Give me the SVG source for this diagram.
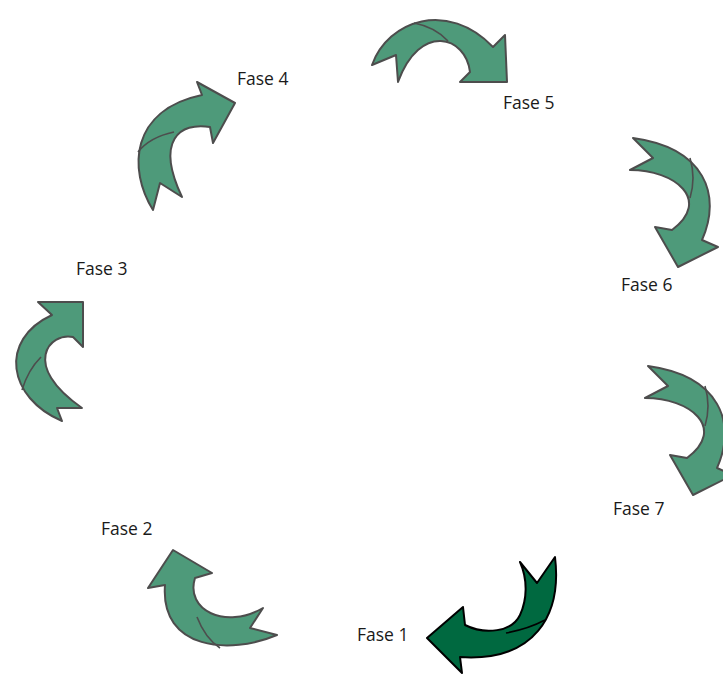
<svg xmlns="http://www.w3.org/2000/svg" width="723" height="674" viewBox="0 0 723 674">
<style>
.a{fill:#4e9a7a;stroke:#4d4d4d;stroke-width:2;stroke-linejoin:round}
.f{fill:none;stroke:#4d4d4d;stroke-width:1.6}
.a1{fill:#006940;stroke:#000;stroke-width:2;stroke-linejoin:round}
.f1{fill:none;stroke:#000;stroke-width:1.6}
.t{font-family:"Open Sans","Noto Sans",sans-serif;font-size:17.5px;fill:#1a1a1a}
</style>
<rect width="723" height="674" fill="#fff"/>
<g id="connectors">
<g id="arrow5"><path class="a" d="M372,65 C388,20 448,0 493,47 L505,35 L507,82 L460,82 L470,72 C466,36 420,22 398,82 L396,55 Z"/><path class="f" d="M414,23 Q435,27 448,41"/></g>
<g id="arrow4"><path class="a" d="M153,210 C128,170 130,110 202,95 L197,82 L235,103 L213,143 L210,127 C180,122 155,140 182,197 L160,183 Z"/><path class="f" d="M138,152 Q150,137 174,132"/></g>
<g id="arrow3"><path class="a" d="M38,302 L83,302 L83,347 L73,337 C50,332 20,365 82,408 L57,408 L62,421 C8,398 -2,340 52,315 Z"/><path class="f" d="M22,390 Q28,370 41,357"/></g>
<g id="arrow2"><path class="a" d="M173,550 L212,573 L195,578 C185,610 225,630 263,608 L250,628 L277,635 C230,655 160,650 165,585 L148,588 Z"/><path class="f" d="M197,617 Q205,638 220,648"/></g>
<g id="arrow1"><path class="a1" d="M427,638 L463,607 L465,625 C485,635 512,632 520,615 C527,600 528,580 520,562 L537,583 L555,557 C562,615 535,662 460,657 L462,673 Z"/><path class="f1" d="M506,633 Q528,629 545,620"/></g>
<g id="arrow6"><path class="a" d="M633,138 L653,158 L630,170 C675,170 712,200 672,230 L655,227 L678,267 L718,247 L702,240 C722,195 705,148 633,138 Z"/><path class="f" d="M690,158 Q696,178 690,198"/></g>
<g id="arrow7" transform="translate(15,228)"><path class="a" d="M633,138 L653,158 L630,170 C675,170 712,200 672,230 L655,227 L678,267 L718,247 L702,240 C722,195 705,148 633,138 Z"/><path class="f" d="M690,158 Q696,178 690,198"/></g>
</g>
<g id="fase1"><text class="t" x="357" y="641">Fase 1</text></g>
<g id="fase2"><text class="t" x="101" y="535">Fase 2</text></g>
<g id="fase3"><text class="t" x="76" y="275">Fase 3</text></g>
<g id="fase4"><text class="t" x="237" y="85">Fase 4</text></g>
<g id="fase5"><text class="t" x="503" y="109">Fase 5</text></g>
<g id="fase6"><text class="t" x="621" y="291">Fase 6</text></g>
<g id="fase7"><text class="t" x="613" y="515">Fase 7</text></g>
</svg>
